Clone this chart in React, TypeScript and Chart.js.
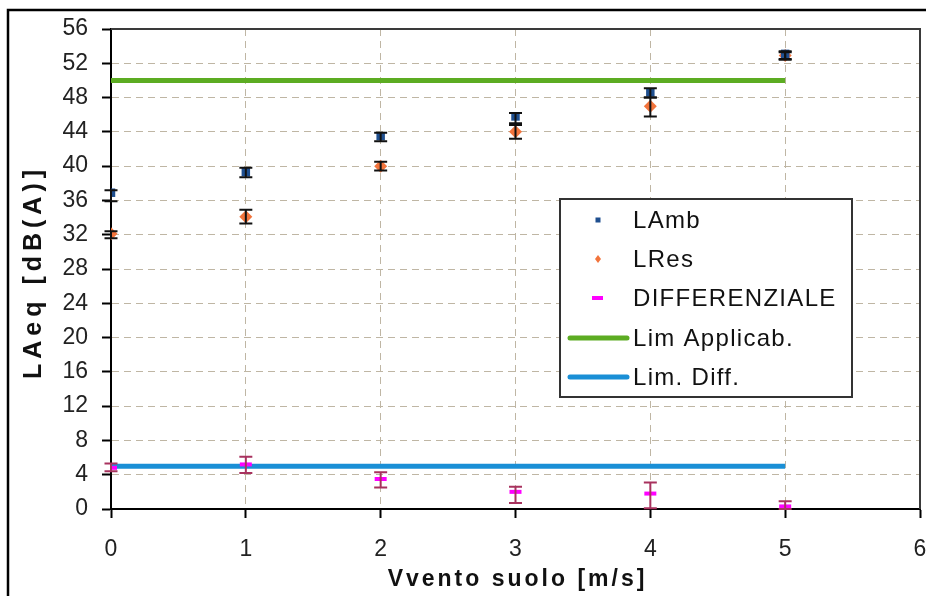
import React, { useEffect, useRef } from "react";
import { Chart, registerables } from "chart.js";

Chart.register(...registerables);

// ---------- data ----------
const xValues = [0, 1, 2, 3, 4, 5];

const lambValues = [36.9, 39.3, 43.5, 45.8, 48.6, 53.1];
const lambLow = [35.9, 38.7, 42.9, 45.0, 48.0, 52.4];
const lambHigh = [37.2, 39.8, 43.9, 46.2, 49.1, 53.4];

const lresValues = [32.1, 34.1, 40.0, 44.0, 47.0, 52.9];
const lresLow = [31.6, 33.3, 39.5, 43.2, 45.8, 52.5];
const lresHigh = [32.4, 34.9, 40.5, 44.8, 48.0, 53.3];

const diffValues = [4.8, 5.2, 3.5, 2.0, 1.8, 0.3];
const diffLow = [4.4, 4.2, 2.5, 0.7, 0.1, 0.0];
const diffHigh = [5.3, 6.1, 4.3, 2.6, 3.1, 0.9];

const limitX = [0, 5];
const limApplicabValues = [50, 50];
const limDiffValues = [5, 5];

const seriesLabels = ["LAmb", "LRes", "DIFFERENZIALE", "Lim Applicab.", "Lim. Diff."];
const xTitle = "Vvento suolo [m/s]";
const yTitle = "LAeq [dB(A)]";

const xMin = 0;
const xMax = 6;
const xStep = 1;
const yMin = 0;
const yMax = 56;
const yStep = 4;

// ---------- styles ----------
const FONT = "'Liberation Sans', Arial, sans-serif";
const C_LAMB = "#1f4f8f";
const C_LRES = "#f2743c";
const C_DIFF = "#ff00ff";
const C_GREEN = "#5cac22";
const C_BLUE = "#1a8fd6";
const C_GRID = "#bfb6a4";

const errorBars = [
  { ds: 0, low: lambLow, high: lambHigh, color: "#111111" },
  { ds: 1, low: lresLow, high: lresHigh, color: "#111111" },
  { ds: 2, low: diffLow, high: diffHigh, color: "#a8325e" },
];

const errorBarPlugin = {
  id: "errorBars",
  afterDatasetsDraw(chart: any) {
    const { ctx } = chart;
    const xs = chart.scales.x;
    const ys = chart.scales.y;
    ctx.save();
    errorBars.forEach((eb) => {
      ctx.strokeStyle = eb.color;
      ctx.lineWidth = 2;
      xValues.forEach((xv, i) => {
        const px = xs.getPixelForValue(xv);
        const pl = ys.getPixelForValue(eb.low[i]);
        const ph = ys.getPixelForValue(eb.high[i]);
        ctx.beginPath();
        ctx.moveTo(px, pl);
        ctx.lineTo(px, ph);
        ctx.moveTo(px - 6.5, pl);
        ctx.lineTo(px + 6.5, pl);
        ctx.moveTo(px - 6.5, ph);
        ctx.lineTo(px + 6.5, ph);
        ctx.stroke();
      });
    });
    ctx.restore();
  },
};

const framePlugin = {
  id: "frames",
  beforeDraw(chart: any) {
    const { ctx, width, height } = chart;
    ctx.save();
    ctx.fillStyle = "#ffffff";
    ctx.fillRect(0, 0, width, height);
    ctx.strokeStyle = "#000000";
    ctx.lineWidth = 2.5;
    ctx.strokeRect(8, 10, width + 20, height + 20);
    ctx.restore();
  },
  beforeDatasetsDraw(chart: any) {
    const { ctx, chartArea } = chart;
    ctx.save();
    ctx.strokeStyle = "#3a3a3a";
    ctx.lineWidth = 2;
    ctx.beginPath();
    ctx.moveTo(chartArea.left, chartArea.top);
    ctx.lineTo(chartArea.right, chartArea.top);
    ctx.lineTo(chartArea.right, chartArea.bottom);
    ctx.stroke();
    ctx.restore();
  },
  afterDraw(chart: any) {
    const { ctx, chartArea } = chart;
    ctx.save();
    ctx.fillStyle = "#111111";
    ctx.textAlign = "center";
    ctx.textBaseline = "middle";
    ctx.font = `bold 23px ${FONT}`;
    (ctx as any).letterSpacing = "3px";
    ctx.fillText(xTitle, (chartArea.left + chartArea.right) / 2 + 2, 580);
    ctx.font = `bold 25px ${FONT}`;
    (ctx as any).letterSpacing = "5px";
    ctx.translate(34, 272);
    ctx.rotate(-Math.PI / 2);
    ctx.fillText(yTitle, 0, 0);
    ctx.restore();
  },
};

const legendPlugin = {
  id: "customLegend",
  afterDraw(chart: any) {
    const { ctx } = chart;
    const bx = 560, by = 199, bw = 292, bh = 198;
    ctx.save();
    ctx.fillStyle = "#ffffff";
    ctx.fillRect(bx, by, bw, bh);
    ctx.strokeStyle = "#333333";
    ctx.lineWidth = 2;
    ctx.strokeRect(bx, by, bw, bh);
    const rows = [220, 259, 298, 338, 377];
    const mx = 598;
    // LAmb marker
    ctx.fillStyle = C_LAMB;
    ctx.fillRect(mx - 2.5, rows[0] - 2.5, 5, 5);
    // LRes marker
    ctx.fillStyle = C_LRES;
    ctx.beginPath();
    ctx.moveTo(mx, rows[1] - 4);
    ctx.lineTo(mx + 3, rows[1]);
    ctx.lineTo(mx, rows[1] + 4);
    ctx.lineTo(mx - 3, rows[1]);
    ctx.closePath();
    ctx.fill();
    // DIFF marker
    ctx.fillStyle = C_DIFF;
    ctx.fillRect(mx - 6, rows[2] - 2, 11, 4);
    // lines
    ctx.lineCap = "round";
    ctx.lineWidth = 5;
    ctx.strokeStyle = C_GREEN;
    ctx.beginPath();
    ctx.moveTo(570, rows[3]);
    ctx.lineTo(627, rows[3]);
    ctx.stroke();
    ctx.strokeStyle = C_BLUE;
    ctx.beginPath();
    ctx.moveTo(570, rows[4]);
    ctx.lineTo(627, rows[4]);
    ctx.stroke();
    ctx.fillStyle = "#111111";
    ctx.font = `24px ${FONT}`;
    (ctx as any).letterSpacing = "1.3px";
    ctx.textAlign = "left";
    ctx.textBaseline = "middle";
    seriesLabels.forEach((t, i) => ctx.fillText(t, 633, rows[i] + 1));
    ctx.restore();
  },
};

function toPoints(xs: number[], ys: number[]) {
  return xs.map((x, i) => ({ x, y: ys[i] }));
}

export default function App() {
  const ref = useRef<HTMLCanvasElement | null>(null);
  useEffect(() => {
    if (!ref.current) return;
    const chart = new Chart(ref.current, {
      type: "scatter",
      data: {
        datasets: [
          {
            label: seriesLabels[0],
            data: toPoints(xValues, lambValues),
            pointStyle: "rect",
            pointRadius: 6,
            backgroundColor: C_LAMB,
            borderColor: C_LAMB,
            borderWidth: 0,
            order: 3,
          },
          {
            label: seriesLabels[1],
            data: toPoints(xValues, lresValues),
            pointStyle: "rectRot",
            pointRadius: 6.5,
            backgroundColor: C_LRES,
            borderColor: C_LRES,
            borderWidth: 0,
            order: 3,
          },
          {
            label: seriesLabels[2],
            data: toPoints(xValues, diffValues),
            pointStyle: "line",
            pointRadius: 6,
            backgroundColor: C_DIFF,
            borderColor: C_DIFF,
            borderWidth: 4,
            order: 3,
          },
          {
            label: seriesLabels[3],
            data: toPoints(limitX, limApplicabValues),
            showLine: true,
            pointRadius: 0,
            borderColor: C_GREEN,
            borderWidth: 5,
            order: 5,
          },
          {
            label: seriesLabels[4],
            data: toPoints(limitX, limDiffValues),
            showLine: true,
            pointRadius: 0,
            borderColor: C_BLUE,
            borderWidth: 5,
            order: 5,
          },
        ],
      },
      options: {
        animation: false,
        responsive: true,
        maintainAspectRatio: false,
        layout: { padding: { top: 29, right: 6, left: 0, bottom: 0 } },
        plugins: {
          legend: { display: false },
          tooltip: { enabled: false },
        },
        scales: {
          x: {
            type: "linear",
            min: xMin,
            max: xMax,
            afterFit: (s: any) => {
              s.height = 87;
              s.paddingLeft = 0;
              s.paddingRight = 0;
            },
            ticks: {
              stepSize: xStep,
              color: "#222222",
              font: { family: FONT, size: 23 },
              padding: 18,
            },
            grid: {
              color: C_GRID,
              lineWidth: 1,
              tickColor: "#000000",
              tickLength: 9,
              tickWidth: 2,
            },
            border: { display: true, color: "#000000", width: 2, dash: [7, 5] },
          },
          y: {
            type: "linear",
            min: yMin,
            max: yMax,
            afterFit: (s: any) => {
              s.width = 111;
              s.paddingTop = 0;
              s.paddingBottom = 0;
            },
            ticks: {
              stepSize: yStep,
              color: "#222222",
              font: { family: FONT, size: 23 },
              padding: 14,
            },
            grid: {
              color: C_GRID,
              lineWidth: 1,
              tickColor: "#000000",
              tickLength: 9,
              tickWidth: 2,
            },
            border: { display: true, color: "#000000", width: 2, dash: [7, 5] },
          },
        },
      },
      plugins: [framePlugin, errorBarPlugin, legendPlugin],
    });
    return () => chart.destroy();
  }, []);
  return (
    <div style={{ position: "fixed", left: 0, top: 0, width: 930, height: 596, overflow: "hidden" }}>
      <canvas ref={ref} />
    </div>
  );
}
